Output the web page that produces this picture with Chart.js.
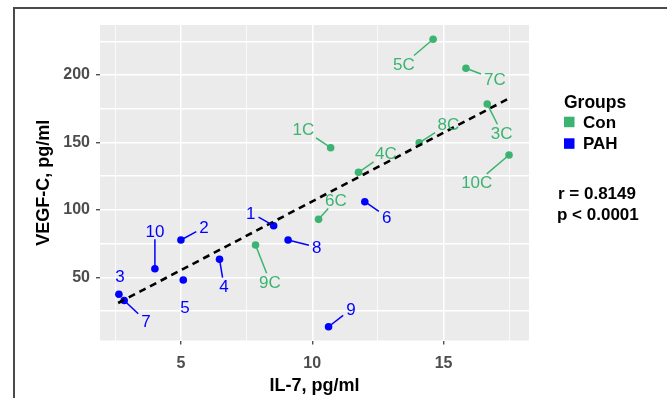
<!DOCTYPE html>
<html>
<head>
<meta charset="utf-8">
<script src="https://cdn.jsdelivr.net/npm/chart.js@4"></script>
<style>
  body { margin: 0; background: #fff; }
  #wrap { position: relative; width: 667px; height: 398px; overflow: hidden; }
  #frame { position: absolute; left: 13px; top: 7px; width: 700px; height: 420px;
           border: 2px solid #4a4a4a; pointer-events: none; }
</style>
</head>
<body>
<div id="wrap">
  <canvas id="myChart"></canvas>
  <div id="frame"></div>
</div>
<script>
// Con group (green)
const conNames = ['1C', '3C', '4C', '5C', '6C', '7C', '8C', '9C', '10C'];
const conX = [10.7, 16.66, 11.76, 14.6, 10.24, 15.85, 14.07, 7.84, 17.49];
const conY = [146.1, 178.5, 127.9, 226.5, 93, 205, 149.8, 74, 140.7];
const conLabelX = [9.66, 17.21, 12.8, 13.49, 10.9, 16.95, 15.18, 8.39, 16.26];
const conLabelY = [159.7, 157.2, 142.0, 208.2, 107.3, 196.8, 163.7, 46.8, 120.4];

// PAH group (blue)
const pahNames = ['1', '2', '3', '4', '5', '6', '7', '8', '9', '10'];
const pahX = [8.53, 5.0, 2.64, 6.47, 5.09, 12.0, 2.84, 9.08, 10.62, 4.01];
const pahY = [88.3, 77.7, 37.5, 63.4, 48, 106.1, 32.9, 77.7, 13.4, 56.4];
const pahLabelX = [7.66, 5.88, 2.68, 6.64, 5.15, 12.83, 3.67, 10.17, 11.47, 4.01];
const pahLabelY = [97.9, 87.1, 51.0, 43.6, 27.8, 95.0, 17.6, 72.3, 26.3, 84.6];

// labels drawn without a leader segment
const noSegment = ['3', '5'];

// linear fit
const fitX = [2.61, 17.49];
const fitY = [31.0, 182.7];

const xTicks = [2.5, 5, 7.5, 10, 12.5, 15, 17.5];
const yTicks = [25, 50, 75, 100, 125, 150, 175, 200, 225];

const statText = ['r = 0.8149', 'p < 0.0001'];

const GREEN = '#3cb371';
const BLUE = '#0000ff';
const FONT = '"Liberation Sans", Arial, sans-serif';

function toPoints(xs, ys) {
    return xs.map((v, i) => ({ x: v, y: ys[i] }));
}

const groups = [
    { names: conNames, x: conX, y: conY, lx: conLabelX, ly: conLabelY, color: GREEN },
    { names: pahNames, x: pahX, y: pahY, lx: pahLabelX, ly: pahLabelY, color: BLUE }
];

const panelBg = {
    id: 'panelBg',
    beforeDraw(chart) {
        const { ctx, chartArea: a } = chart;
        ctx.save();
        ctx.fillStyle = '#ebebeb';
        ctx.fillRect(a.left, a.top, a.right - a.left, a.bottom - a.top);
        ctx.restore();
    }
};

const pointLabels = {
    id: 'pointLabels',
    afterDatasetsDraw(chart) {
        const { ctx } = chart;
        const xs = chart.scales.x, ys = chart.scales.y;
        ctx.save();
        ctx.font = '17px ' + FONT;
        ctx.textAlign = 'center';
        ctx.textBaseline = 'alphabetic';
        groups.forEach(g => {
            g.names.forEach((name, i) => {
                const px = xs.getPixelForValue(g.x[i]);
                const py = ys.getPixelForValue(g.y[i]);
                const lx = xs.getPixelForValue(g.lx[i]);
                const ly = ys.getPixelForValue(g.ly[i]);
                const w = ctx.measureText(name).width;
                if (!noSegment.includes(name)) {
                    const hw = w / 2 + 3, hh = 8.5;
                    const dx = px - lx, dy = py - ly;
                    if (Math.abs(dx) > hw || Math.abs(dy) > hh) {
                        const t = Math.min(dx ? hw / Math.abs(dx) : Infinity, dy ? hh / Math.abs(dy) : Infinity);
                        ctx.strokeStyle = g.color;
                        ctx.lineWidth = 1.5;
                        ctx.beginPath();
                        ctx.moveTo(px, py);
                        ctx.lineTo(lx + dx * t, ly + dy * t);
                        ctx.stroke();
                    }
                }
                ctx.fillStyle = g.color;
                ctx.fillText(name, lx, ly + 17 * 0.358);
            });
        });
        ctx.restore();
    }
};

const sideLegend = {
    id: 'sideLegend',
    afterDraw(chart) {
        const { ctx, chartArea: a } = chart;
        const left = a.right + 35;
        ctx.save();
        ctx.textAlign = 'left';
        ctx.textBaseline = 'alphabetic';
        ctx.fillStyle = '#000';
        ctx.font = 'bold 17.5px ' + FONT;
        ctx.fillText('Groups', left, 101.7 + 6.3);
        ctx.font = 'bold 17px ' + FONT;
        [0, 1].forEach(k => {
            const ds = chart.data.datasets[k];
            const cy = 121.7 + k * 21.6;
            ctx.fillStyle = ds.backgroundColor;
            ctx.fillRect(left, cy - 5, 10.5, 10.5);
            ctx.fillStyle = '#000';
            ctx.fillText(ds.label, left + 19, cy + 6.1);
        });
        ctx.fillText(statText[0], left - 6, 193.3 + 6.1);
        ctx.fillText(statText[1], left - 7, 214 + 6.1);
        ctx.restore();
    }
};

function gridWidth(ctx) {
    return ctx.tick && ctx.tick.value % 5 === 0 ? 1.5 : 0.75;
}

const ctx = document.getElementById('myChart');
new Chart(ctx, {
    type: 'scatter',
    data: {
        datasets: [
            {
                label: 'Con',
                data: toPoints(conX, conY),
                backgroundColor: GREEN,
                borderColor: GREEN,
                pointRadius: 3.8,
                borderWidth: 0,
                order: 2
            },
            {
                label: 'PAH',
                data: toPoints(pahX, pahY),
                backgroundColor: BLUE,
                borderColor: BLUE,
                pointRadius: 3.8,
                borderWidth: 0,
                order: 2
            },
            {
                type: 'line',
                label: 'fit',
                data: toPoints(fitX, fitY),
                borderColor: '#000',
                borderWidth: 2.6,
                borderDash: [7, 5],
                pointRadius: 0,
                fill: false,
                order: 1
            }
        ]
    },
    options: {
        responsive: true,
        maintainAspectRatio: false,
        animation: false,
        layout: { padding: { top: 25, right: 138, left: 0, bottom: 0 } },
        plugins: {
            legend: { display: false },
            tooltip: { enabled: false }
        },
        scales: {
            x: {
                type: 'linear',
                min: 1.92,
                max: 18.25,
                afterBuildTicks: scale => { scale.ticks = xTicks.map(v => ({ value: v })); },
                afterFit: scale => { scale.height = 57.5; },
                border: { display: false },
                grid: {
                    color: '#ffffff',
                    lineWidth: gridWidth,
                    tickLength: 4,
                    tickWidth: 1.2,
                    tickColor: c => c.tick && c.tick.value % 5 === 0 ? '#333333' : 'rgba(0,0,0,0)'
                },
                ticks: {
                    autoSkip: false,
                    maxRotation: 0,
                    padding: 9,
                    color: '#4d4d4d',
                    font: { family: FONT, size: 16, weight: 'bold' },
                    callback: v => (v % 5 === 0 ? v : '')
                },
                title: {
                    display: true,
                    text: 'IL-7, pg/ml',
                    color: '#000',
                    font: { family: FONT, size: 18, weight: 'bold' },
                    padding: { top: 0, bottom: 1 }
                }
            },
            y: {
                type: 'linear',
                min: 3.2,
                max: 237.1,
                afterBuildTicks: scale => { scale.ticks = yTicks.map(v => ({ value: v })); },
                afterFit: scale => { scale.width = 100; },
                border: { display: false },
                grid: {
                    color: '#ffffff',
                    lineWidth: gridWidth,
                    tickLength: 4,
                    tickWidth: 1.2,
                    tickColor: c => c.tick && c.tick.value % 50 === 0 ? '#333333' : 'rgba(0,0,0,0)'
                },
                ticks: {
                    autoSkip: false,
                    padding: 6,
                    color: '#4d4d4d',
                    font: { family: FONT, size: 16, weight: 'bold' },
                    callback: v => (v % 50 === 0 ? v : '')
                },
                title: {
                    display: true,
                    text: 'VEGF-C, pg/ml',
                    color: '#000',
                    font: { family: FONT, size: 18, weight: 'bold' },
                    padding: { top: 33, bottom: 0 }
                }
            }
        }
    },
    plugins: [panelBg, pointLabels, sideLegend]
});
</script>
</body>
</html>
